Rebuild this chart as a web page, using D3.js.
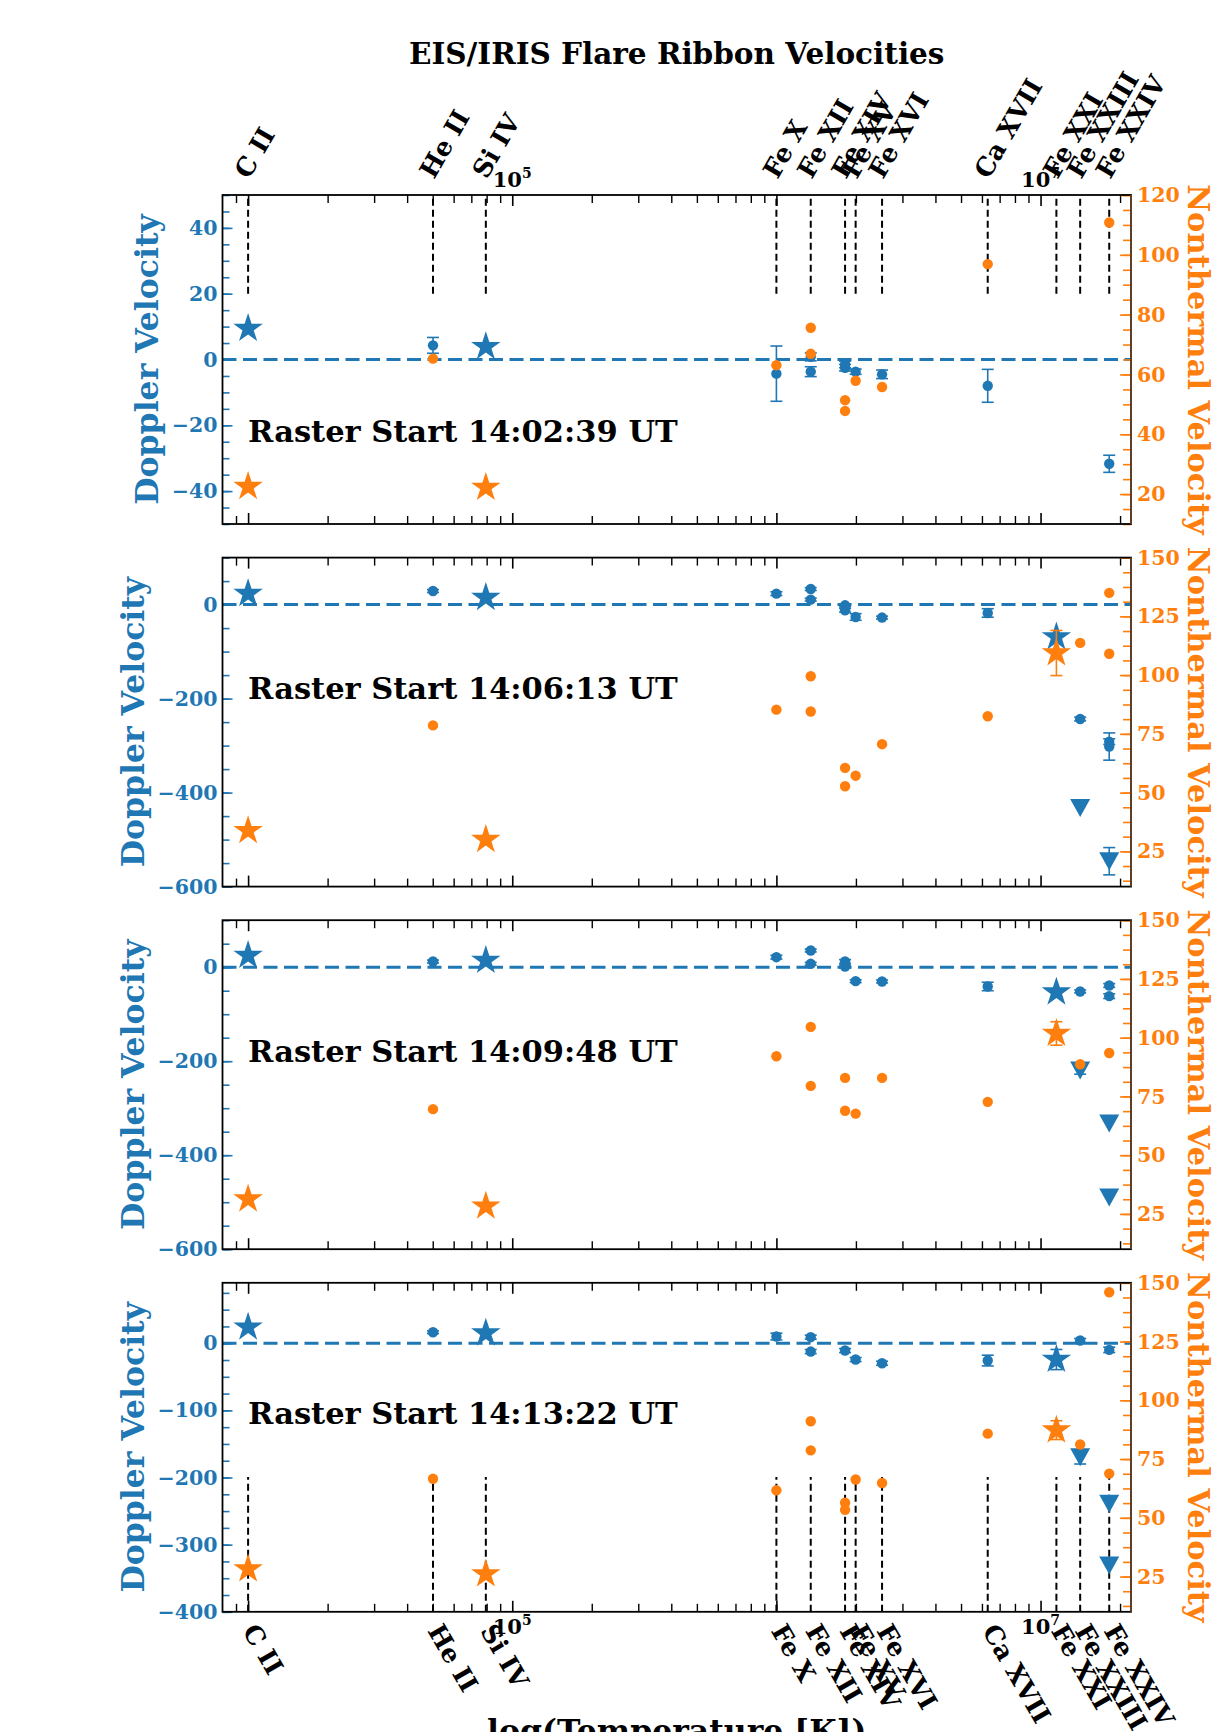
<!DOCTYPE html>
<html>
<head>
<meta charset="utf-8">
<script src="https://cdn.jsdelivr.net/npm/d3@7"></script>
<style>
  body { margin: 0; background: #fff; }
  text { font-family: "DejaVu Serif", serif; font-weight: bold; }
</style>
</head>
<body>
<div id="app"></div>
<script>
// ---- data ----
const ions = ["C II", "He II", "Si IV", "Fe X", "Fe XII", "Fe XIV", "Fe XV", "Fe XVI",
              "Ca XVII", "Fe XXI", "Fe XXIII", "Fe XXIV"];
const ionLogT = [4.0, 4.7, 4.9, 6.0, 6.13, 6.26, 6.3, 6.4, 6.8, 7.06, 7.15, 7.26];
const labeledDecades = [5, 7];
const tempDomain = [8e3, 2.2e7];

const rasterTimes = ["14:02:39", "14:06:13", "14:09:48", "14:13:22"];

const dopplerDomains = [[-50, 50], [-600, 100], [-600, 100], [-400, 90]];
const dopplerTicks = [[-40, -20, 0, 20, 40], [-600, -400, -200, 0], [-600, -400, -200, 0],
                      [-400, -300, -200, -100, 0]];
const dopplerMinorStep = [5, 50, 50, 25];
const nonthermalDomains = [[10, 120], [10, 150], [10, 150], [10, 150]];
const nonthermalTicks = [[20, 40, 60, 80, 100, 120], [25, 50, 75, 100, 125, 150],
                         [25, 50, 75, 100, 125, 150], [25, 50, 75, 100, 125, 150]];
const nonthermalMinorStep = [5, 6.25, 6.25, 6.25];

// [ion, Doppler velocity, error]
const eisDoppler1 = [["He II", 4.3, 2.4], ["Fe X", -4.3, 8.4], ["Fe XII", 0.8, 1.2], ["Fe XII", -3.7, 1.5],
  ["Fe XIV", -1.5, 1.0], ["Fe XIV", -2.5, 1.0], ["Fe XV", -3.7, 0.8], ["Fe XVI", -4.5, 1.3],
  ["Ca XVII", -8.0, 5.0], ["Fe XXIV", -31.7, 2.6]];
const eisDoppler2 = [["He II", 28.9, 3], ["Fe X", 23.3, 4], ["Fe XII", 33.1, 3], ["Fe XII", 10.6, 3],
  ["Fe XIV", -1.5, 3], ["Fe XIV", -12, 4], ["Fe XV", -26.3, 7], ["Fe XVI", -27.6, 3],
  ["Ca XVII", -17.8, 9], ["Fe XXIII", -243.4, 4], ["Fe XXIV", -291.6, 6], ["Fe XXIV", -302, 29]];
const eisDoppler3 = [["He II", 12.1, 3], ["Fe X", 21.3, 4], ["Fe XII", 35.5, 3], ["Fe XII", 7.2, 3],
  ["Fe XIV", 12.1, 4], ["Fe XIV", 1.5, 3], ["Fe XV", -29.7, 3], ["Fe XVI", -30.4, 3],
  ["Ca XVII", -41, 9], ["Fe XXIII", -51.6, 3], ["Fe XXIV", -38.9, 4], ["Fe XXIV", -61.6, 5]];
const eisDoppler4 = [["He II", 16.4, 2], ["Fe X", 10, 5], ["Fe XII", 9, 3], ["Fe XII", -12.4, 3],
  ["Fe XIV", -10.9, 3], ["Fe XV", -24.3, 3], ["Fe XVI", -29.8, 3], ["Ca XVII", -25.8, 8],
  ["Fe XXIII", 4, 3], ["Fe XXIV", -9.9, 4]];

// [ion, nonthermal velocity]
const eisNonthermal1 = [["He II", 65.3], ["Fe X", 63.1], ["Fe XII", 75.6], ["Fe XII", 66.9],
  ["Fe XIV", 51.4], ["Fe XIV", 47.8], ["Fe XV", 57.9], ["Fe XVI", 55.8], ["Ca XVII", 96.9],
  ["Fe XXIV", 110.8]];
const eisNonthermal2 = [["He II", 78.6], ["Fe X", 85.3], ["Fe XII", 99.5], ["Fe XII", 84.5],
  ["Fe XIV", 60.5], ["Fe XIV", 52.7], ["Fe XV", 57.2], ["Fe XVI", 70.6], ["Ca XVII", 82.5],
  ["Fe XXIII", 113.7], ["Fe XXIV", 135], ["Fe XXIV", 109.1]];
const eisNonthermal3 = [["He II", 69.6], ["Fe X", 92.1], ["Fe XII", 104.6], ["Fe XII", 79.5],
  ["Fe XIV", 82.9], ["Fe XIV", 68.9], ["Fe XV", 67.7], ["Fe XVI", 82.9], ["Ca XVII", 72.7],
  ["Fe XXIII", 88.7], ["Fe XXIV", 93.5]];
const eisNonthermal4 = [["He II", 66.6], ["Fe X", 61.7], ["Fe XII", 91.1], ["Fe XII", 78.7],
  ["Fe XIV", 56.4], ["Fe XIV", 53.4], ["Fe XV", 66.3], ["Fe XVI", 64.8], ["Ca XVII", 85.8],
  ["Fe XXIII", 81.2], ["Fe XXIV", 146], ["Fe XXIV", 68.8]];

// star markers [ion, value, error]
const starDoppler1 = [["C II", 9.4, 0], ["Si IV", 3.9, 0]];
const starDoppler2 = [["C II", 23.3, 0], ["Si IV", 14.9, 0], ["Fe XXI", -68.8, 0]];
const starDoppler3 = [["C II", 24.9, 0], ["Si IV", 14.2, 0], ["Fe XXI", -53.1, 0]];
const starDoppler4 = [["C II", 23.9, 0], ["Si IV", 15, 0], ["Fe XXI", -24.3, 15]];
const starNonthermal1 = [["C II", 22.5, 0], ["Si IV", 22.2, 0]];
const starNonthermal2 = [["C II", 33.8, 0], ["Si IV", 30, 0], ["Fe XXI", 109.4, 9.6]];
const starNonthermal3 = [["C II", 31.3, 0], ["Si IV", 28.3, 0], ["Fe XXI", 101.8, 5]];
const starNonthermal4 = [["C II", 28.2, 0], ["Si IV", 26.1, 0], ["Fe XXI", 87.3, 4]];

// down triangles [ion, Doppler velocity, error]
const limits1 = [];
const limits2 = [["Fe XXIII", -433, 0], ["Fe XXIV", -546, 29]];
const limits3 = [["Fe XXIII", -219.6, 8], ["Fe XXIV", -332.8, 0], ["Fe XXIV", -490, 0]];
const limits4 = [["Fe XXIII", -169.9, 10], ["Fe XXIV", -239, 0], ["Fe XXIV", -331, 0]];

// ---- layout ----
const width = 1231, height = 1732;
const plotLeft = 222.5, plotRight = 1131;
const firstTop = 195, panelStep = 362.6, plotH = 329;
const blue = "#1f77b4", orange = "#ff7f0e";
const labelFrac = [0.25, 0.57, 0.57, 0.57];   // raster text height in the panel
const guideFrac = [[0.7, 1], null, null, [0, 0.41]];  // black dashed ion lines

const panels = [
  {dop: eisDoppler1, ntv: eisNonthermal1, sd: starDoppler1, sn: starNonthermal1, lim: limits1},
  {dop: eisDoppler2, ntv: eisNonthermal2, sd: starDoppler2, sn: starNonthermal2, lim: limits2},
  {dop: eisDoppler3, ntv: eisNonthermal3, sd: starDoppler3, sn: starNonthermal3, lim: limits3},
  {dop: eisDoppler4, ntv: eisNonthermal4, sd: starDoppler4, sn: starNonthermal4, lim: limits4},
];

const svg = d3.select("#app").append("svg")
    .attr("width", width)
    .attr("height", height);

const x = d3.scaleLog().domain(tempDomain).range([plotLeft, plotRight]);
const ionX = name => x(Math.pow(10, ionLogT[ions.indexOf(name)]));

const majorX = [1e4, 1e5, 1e6, 1e7];
const minorX = [];
for (const dec of [1e3, 1e4, 1e5, 1e6, 1e7])
  for (let k = 2; k < 10; k++)
    if (k * dec > tempDomain[0] && k * dec < tempDomain[1]) minorX.push(k * dec);

// symbols
const triDown = {
  draw(ctx, size) {
    const r = Math.sqrt(size) / 2;
    ctx.moveTo(-r, -r * 0.9);
    ctx.lineTo(r, -r * 0.9);
    ctx.lineTo(0, r * 0.9);
    ctx.closePath();
  }
};
const circlePath = d3.symbol(d3.symbolCircle, Math.PI * 5.2 * 5.2)();
const starPath = d3.symbol(d3.symbolStar, 15.5 * 15.5 / 0.8908130915292852)();
const triPath = d3.symbol(triDown, 20 * 20)();

// title
svg.append("text")
    .attr("x", (plotLeft + plotRight) / 2)
    .attr("y", 64)
    .attr("text-anchor", "middle")
    .attr("font-size", 29.5)
    .text("EIS/IRIS Flare Ribbon Velocities");

function errorBars(g, data, xf, y, color) {
  const withErr = data.filter(d => d[2] > 0);
  const eb = g.append("g").attr("stroke", color).attr("stroke-width", 1.6);
  eb.selectAll("line.v").data(withErr).enter().append("line")
      .attr("x1", d => xf(d[0])).attr("x2", d => xf(d[0]))
      .attr("y1", d => y(d[1] - d[2])).attr("y2", d => y(d[1] + d[2]));
  for (const s of [-1, 1]) {
    eb.selectAll(null).data(withErr).enter().append("line")
        .attr("x1", d => xf(d[0]) - 6).attr("x2", d => xf(d[0]) + 6)
        .attr("y1", d => y(d[1] + s * d[2])).attr("y2", d => y(d[1] + s * d[2]));
  }
}

function markers(g, data, xf, y, path, color) {
  g.append("g").selectAll("path").data(data).enter().append("path")
      .attr("d", path)
      .attr("fill", color)
      .attr("transform", d => "translate(" + xf(d[0]) + "," + y(d[1]) + ")");
}

panels.forEach((p, i) => {
  const top = firstTop + i * panelStep;
  const bottom = top + plotH;
  const yL = d3.scaleLinear().domain(dopplerDomains[i]).range([bottom, top]);
  const yR = d3.scaleLinear().domain(nonthermalDomains[i]).range([bottom, top]);
  const g = svg.append("g").attr("class", "panel");

  // black dashed lines at the ion temperatures
  if (guideFrac[i]) {
    g.append("g").selectAll("line").data(ions).enter().append("line")
        .attr("x1", d => ionX(d)).attr("x2", d => ionX(d))
        .attr("y1", bottom - guideFrac[i][0] * plotH)
        .attr("y2", bottom - guideFrac[i][1] * plotH)
        .attr("stroke", "#000").attr("stroke-width", 2)
        .attr("stroke-dasharray", "7,4");
  }

  // zero Doppler line
  g.append("line")
      .attr("x1", plotLeft).attr("x2", plotRight)
      .attr("y1", yL(0)).attr("y2", yL(0))
      .attr("stroke", blue).attr("stroke-width", 3)
      .attr("stroke-dasharray", "14,6.5");

  // doppler (left axis)
  errorBars(g, p.dop, ionX, yL, blue);
  markers(g, p.dop, ionX, yL, circlePath, blue);
  errorBars(g, p.lim, ionX, yL, blue);
  markers(g, p.lim, ionX, yL, triPath, blue);
  errorBars(g, p.sd, ionX, yL, blue);
  markers(g, p.sd, ionX, yL, starPath, blue);

  // nonthermal (right axis)
  errorBars(g, p.sn, ionX, yR, orange);
  markers(g, p.ntv, ionX, yR, circlePath, orange);
  markers(g, p.sn, ionX, yR, starPath, orange);

  // raster label
  g.append("text")
      .attr("x", x(1e4))
      .attr("y", bottom - labelFrac[i] * plotH)
      .attr("font-size", 30.5)
      .text("Raster Start " + rasterTimes[i] + " UT");

  // x ticks, inside, top and bottom
  for (const [pos, axisFn] of [[bottom, d3.axisBottom], [top, d3.axisTop]]) {
    g.append("g").attr("transform", "translate(0," + pos + ")")
        .call(axisFn(x).tickValues(majorX).tickSize(-11).tickFormat(""))
        .call(a => a.select(".domain").remove())
        .selectAll("line").attr("stroke", "#000").attr("stroke-width", 1.6);
    g.append("g").attr("transform", "translate(0," + pos + ")")
        .call(axisFn(x).tickValues(minorX).tickSize(-8).tickFormat(""))
        .call(a => a.select(".domain").remove())
        .selectAll("line").attr("stroke", "#000").attr("stroke-width", 1.4);
  }

  // left axis
  const minL = d3.range(Math.ceil(dopplerDomains[i][0] / dopplerMinorStep[i]) * dopplerMinorStep[i],
                        dopplerDomains[i][1] + 1e-9, dopplerMinorStep[i]);
  g.append("g").attr("transform", "translate(" + plotLeft + ",0)")
      .call(d3.axisLeft(yL).tickValues(minL).tickSize(-7).tickFormat(""))
      .call(a => a.select(".domain").remove())
      .selectAll("line").attr("stroke", blue).attr("stroke-width", 1.6);
  const leftAx = g.append("g").attr("transform", "translate(" + plotLeft + ",0)")
      .call(d3.axisLeft(yL).tickValues(dopplerTicks[i]).tickSize(-10).tickPadding(5)
            .tickFormat(d3.format("d")))
      .call(a => a.select(".domain").remove());
  leftAx.selectAll("line").attr("stroke", blue).attr("stroke-width", 1.6);
  leftAx.selectAll("text").attr("fill", blue).attr("font-size", 20.5)
      .attr("font-family", "DejaVu Serif");

  // right axis
  const minR = d3.range(Math.ceil(nonthermalDomains[i][0] / nonthermalMinorStep[i]) * nonthermalMinorStep[i],
                        nonthermalDomains[i][1] + 1e-9, nonthermalMinorStep[i]);
  g.append("g").attr("transform", "translate(" + plotRight + ",0)")
      .call(d3.axisRight(yR).tickValues(minR).tickSize(-8).tickFormat(""))
      .call(a => a.select(".domain").remove())
      .selectAll("line").attr("stroke", orange).attr("stroke-width", 1.6);
  const rightAx = g.append("g").attr("transform", "translate(" + plotRight + ",0)")
      .call(d3.axisRight(yR).tickValues(nonthermalTicks[i]).tickSize(-11).tickPadding(6)
            .tickFormat(d3.format("d")))
      .call(a => a.select(".domain").remove());
  rightAx.selectAll("line").attr("stroke", orange).attr("stroke-width", 1.6);
  rightAx.selectAll("text").attr("fill", orange).attr("font-size", 20.5)
      .attr("font-family", "DejaVu Serif");

  // frame
  g.append("rect")
      .attr("x", plotLeft).attr("y", top)
      .attr("width", plotRight - plotLeft).attr("height", plotH)
      .attr("fill", "none").attr("stroke", "#000").attr("stroke-width", 1.8);
  g.append("line")
      .attr("x1", plotRight).attr("x2", plotRight).attr("y1", top).attr("y2", bottom)
      .attr("stroke", "#6b4222").attr("stroke-width", 1.8);

  // axis labels placed beside the tick labels
  const lb = leftAx.node().getBBox();
  const rb = rightAx.node().getBBox();
  const mid = (top + bottom) / 2;
  g.append("text")
      .attr("transform", "translate(" + (plotLeft + lb.x - 14) + "," + mid + ") rotate(-90)")
      .attr("text-anchor", "middle")
      .attr("font-size", 31.5)
      .attr("fill", blue)
      .text("Doppler Velocity");
  g.append("text")
      .attr("transform", "translate(" + (plotRight + rb.x + rb.width + 8) + "," + mid + ") rotate(90)")
      .attr("text-anchor", "middle")
      .attr("font-size", 30.5)
      .attr("fill", orange)
      .text("Nonthermal Velocity");

  // ion names and decade labels
  if (i === 0 || i === panels.length - 1) {
    const isTop = i === 0;
    g.append("g").selectAll("text").data(ions).enter().append("text")
        .attr("transform", d => isTop
            ? "translate(" + (ionX(d) + 1) + "," + (top - 15) + ") rotate(-60)"
            : "translate(" + (ionX(d) - 6) + "," + (bottom + 19) + ") rotate(60)")
        .attr("font-size", 25.5)
        .text(d => d);
    const dl = g.append("g").selectAll("text").data(labeledDecades).enter().append("text")
        .attr("x", d => x(Math.pow(10, d)))
        .attr("y", isTop ? top - 8 : bottom + 22)
        .attr("text-anchor", "middle")
        .attr("font-size", 21);
    dl.append("tspan").text("10");
    dl.append("tspan").attr("font-size", 14).attr("dy", -9).text(d => d);
  }
});

// x axis title (partly below the page edge, as in the figure)
svg.append("text")
    .attr("x", (plotLeft + plotRight) / 2)
    .attr("y", 1742)
    .attr("text-anchor", "middle")
    .attr("font-size", 31.5)
    .text("log(Temperature [K])");
</script>
</body>
</html>
